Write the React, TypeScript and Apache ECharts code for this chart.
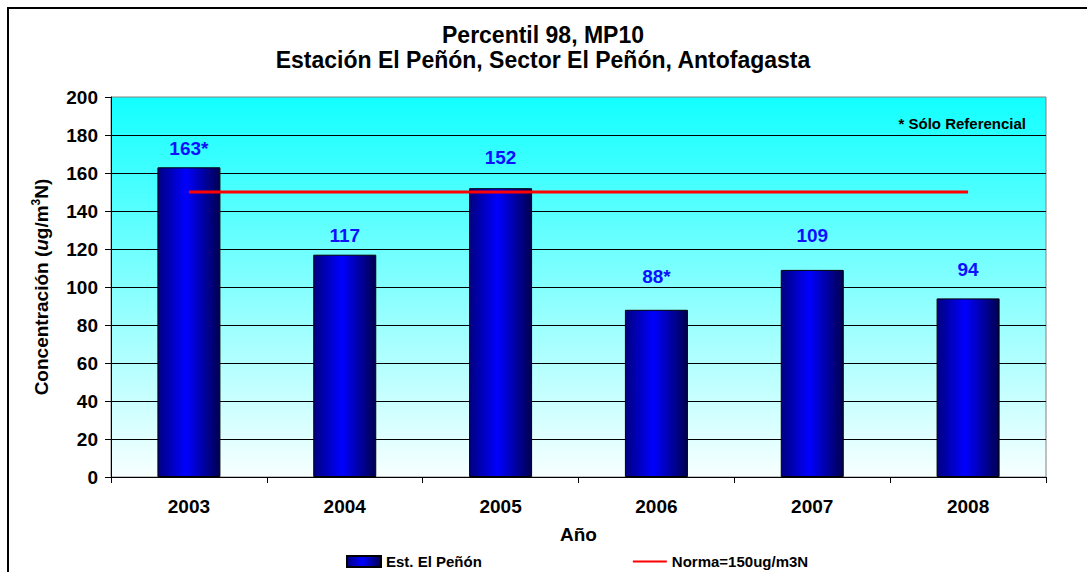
import React, { useEffect, useRef } from "react";
import * as echarts from "echarts";

// PM10 98th percentile, El Peñón station
const years = ["2003", "2004", "2005", "2006", "2007", "2008"];
const percentil98 = [163, 117, 152, 88, 109, 94];
// years whose value is for reference only (marked with *)
const referenceOnly = [true, false, false, true, false, false];
const norma = [150, 150, 150, 150, 150, 150];

// gap (px) between each bar top and its value label
const labelGap = [9, 10, 21, 24, 25, 19];

const FONT = "'Liberation Sans', Arial, sans-serif";

export default function App() {
  const ref = useRef<HTMLDivElement>(null);

  useEffect(() => {
    if (!ref.current) return;
    const chart = echarts.init(ref.current, null, { renderer: "svg" });

    const bold = { fontFamily: FONT, fontWeight: "bold" as const, color: "#000" };

    chart.setOption({
      animation: false,
      backgroundColor: "#fff",
      textStyle: { fontFamily: FONT },
      title: {
        text: "Percentil 98, MP10\nEstación El Peñón, Sector El Peñón, Antofagasta",
        left: 538,
        top: 17,
        textAlign: "center",
        textStyle: { ...bold, fontSize: 23, lineHeight: 25 },
      },
      legend: {
        left: 346,
        top: 554,
        padding: 0,
        itemWidth: 34,
        itemHeight: 11,
        itemGap: 150,
        textStyle: { ...bold, fontSize: 15 },
        data: [
          { name: "Est. El Peñón", icon: "rect" },
          { name: "Norma=150ug/m3N", itemStyle: { opacity: 0 } },
        ],
      },
      grid: {
        left: 111,
        right: 41,
        top: 97,
        bottom: 95,
        show: true,
        borderColor: "#808080",
        borderWidth: 1,
        backgroundColor: new echarts.graphic.LinearGradient(0, 0, 0, 1, [
          { offset: 0, color: "#12FFFF" },
          { offset: 1, color: "#F8FFFF" },
        ]),
      },
      xAxis: {
        type: "category",
        data: years,
        boundaryGap: true,
        name: "Año",
        nameLocation: "middle",
        nameGap: 48,
        nameTextStyle: { ...bold, fontSize: 19 },
        axisLine: { lineStyle: { color: "#000", width: 1 } },
        axisTick: { show: true, length: 6, lineStyle: { color: "#000" } },
        axisLabel: { ...bold, fontSize: 19, margin: 20 },
      },
      yAxis: {
        type: "value",
        min: 0,
        max: 200,
        interval: 20,
        name: "{a|Concentración (}{i|u}{a|g/m}{s|3}{a|N)}",
        nameLocation: "middle",
        nameGap: 59,
        nameRotate: 90,
        nameTextStyle: {
          ...bold,
          fontSize: 19,
          rich: {
            a: { ...bold, fontSize: 19 },
            i: { ...bold, fontSize: 19, fontStyle: "italic" },
            s: { ...bold, fontSize: 12, padding: [0, 0, 10, 0] },
          },
        },
        axisLine: { show: true, lineStyle: { color: "#000", width: 1 } },
        axisTick: { show: true, length: 6, lineStyle: { color: "#000" } },
        axisLabel: { ...bold, fontSize: 19, margin: 13 },
        splitLine: { show: true, showMaxLine: false, lineStyle: { color: "#000", width: 1 } },
      },
      graphic: [
        {
          type: "rect",
          z: 100,
          silent: true,
          shape: { x: 8, y: 8, width: 1200, height: 700 },
          style: { fill: "none", stroke: "#000", lineWidth: 2 },
        },
        {
          type: "text",
          z: 100,
          right: 61,
          top: 116,
          style: { text: "* Sólo Referencial", font: `bold 15px ${FONT}`, fill: "#000" },
        },
      ],
      series: [
        {
          name: "Est. El Peñón",
          type: "bar",
          data: percentil98.map((v, i) => ({ value: v, label: { distance: labelGap[i] } })),
          barWidth: 63,
          itemStyle: {
            color: new echarts.graphic.LinearGradient(0, 0, 1, 0, [
              { offset: 0, color: "#000080" },
              { offset: 0.45, color: "#0000FF" },
              { offset: 1, color: "#000050" },
            ]),
            borderColor: "#000",
            borderWidth: 1,
          },
          label: {
            show: true,
            position: "top",
            fontFamily: FONT,
            fontWeight: "bold",
            fontSize: 19,
            color: "#1010FF",
            formatter: (p: any) => `${p.value}${referenceOnly[p.dataIndex] ? "*" : ""}`,
          },
        },
        {
          name: "Norma=150ug/m3N",
          type: "line",
          data: norma,
          symbol: "none",
          lineStyle: { color: "#FF0000", width: 3 },
          itemStyle: { color: "#FF0000" },
        },
      ],
    });

    return () => chart.dispose();
  }, []);

  return (
    <div
      ref={ref}
      style={{ position: "absolute", left: 0, top: 0, width: 1087, height: 572 }}
    />
  );
}
